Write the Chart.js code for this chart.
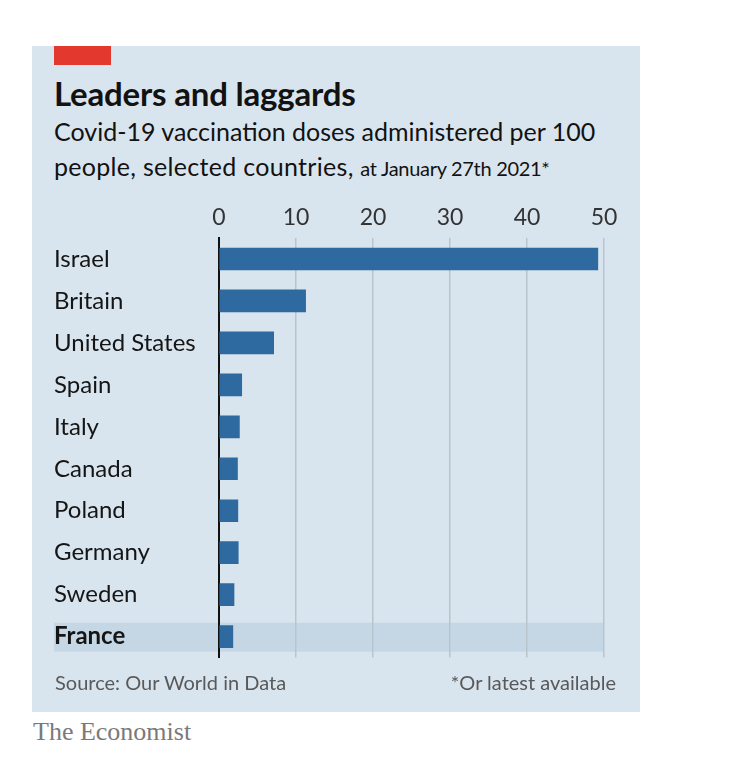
<!DOCTYPE html>
<html>
<head>
<meta charset="utf-8">
<script src="https://cdn.jsdelivr.net/npm/chart.js@4.4.1/dist/chart.umd.min.js"></script>
<style>
  body { margin: 0; background: #fff; font-family: Lato, "Noto Sans", sans-serif; }
  #panel { position: absolute; left: 32px; top: 46px; width: 608px; height: 666px; background: #d9e5ee; }
  #redbar { position: absolute; left: 54px; top: 46px; width: 57px; height: 19px; background: #e3382e; }
  .txt { position: absolute; white-space: nowrap; color: #121212; }
  #title { left: 54px; top: 73px; font-size: 33px; font-weight: 700; letter-spacing: -0.2px; }
  #sub1 { left: 54px; top: 116px; font-size: 25px; }
  #sub2 { left: 54px; top: 151px; font-size: 25px; letter-spacing: 0.3px; }
  #sub2 span { font-size: 20px; letter-spacing: -0.3px; }
  #source { left: 55px; top: 670px; font-size: 20px; color: #595959; }
  #note { right: 125px; top: 670px; font-size: 20px; color: #595959; }
  #brand { left: 33px; top: 717px; font-size: 26px; color: #7a7a7a; font-family: "Liberation Serif", "DejaVu Serif", serif; }
  #wrap { position: absolute; left: 32px; top: 195px; width: 608px; height: 477px; }
</style>
</head>
<body>
<div id="panel"></div>
<div id="redbar"></div>
<div class="txt" id="title">Leaders and laggards</div>
<div class="txt" id="sub1">Covid-19 vaccination doses administered per 100</div>
<div class="txt" id="sub2">people, selected countries, <span>at January 27th 2021*</span></div>
<div id="wrap"><canvas id="chart"></canvas></div>
<div class="txt" id="source">Source: Our World in Data</div>
<div class="txt" id="note">*Or latest available</div>
<div class="txt" id="brand">The Economist</div>
<script>
const countries = ['Israel', 'Britain', 'United States', 'Spain', 'Italy', 'Canada', 'Poland', 'Germany', 'Sweden', 'France'];
const doses = [49.2, 11.25, 7.1, 2.95, 2.65, 2.4, 2.45, 2.5, 1.95, 1.8];
const xTicks = [0, 10, 20, 30, 40, 50];
const highlight = 'France';

const bandPlugin = {
  id: 'band',
  beforeDraw(chart) {
    const { ctx, chartArea, scales } = chart;
    const i = countries.indexOf(highlight);
    const y = scales.y.getPixelForValue(i);
    ctx.save();
    ctx.fillStyle = '#c5d7e4';
    ctx.fillRect(22, y - 14, chartArea.right - 22, 29);
    ctx.restore();
  }
};

new Chart(document.getElementById('chart'), {
  type: 'bar',
  data: {
    labels: countries,
    datasets: [{
      data: doses,
      backgroundColor: '#2e6a9f',
      barThickness: 22,
    }],
  },
  plugins: [bandPlugin],
  options: {
    indexAxis: 'y',
    responsive: true,
    maintainAspectRatio: false,
    animation: false,
    layout: { padding: { left: 22, right: 36, top: 0, bottom: 0 } },
    plugins: { legend: { display: false }, tooltip: { enabled: false } },
    scales: {
      x: {
        position: 'top',
        min: 0,
        max: 50,
        afterBuildTicks: (s) => { s.ticks = xTicks.map((v) => ({ value: v })); },
        afterFit: (s) => { s.height = 43; },
        grid: {
          drawTicks: false,
          color: (c) => (c.tick && c.tick.value === 0 ? 'rgba(0,0,0,0)' : '#b9c5cd'),
          lineWidth: 1.5,
        },
        border: { display: false },
        ticks: { padding: 7, color: '#333', font: { family: 'Lato', size: 23 } },
      },
      y: {
        afterFit: (s) => { s.width = 165; },
        grid: { display: false, drawTicks: false },
        border: { display: true, color: '#111', width: 2 },
        ticks: {
          crossAlign: 'far',
          padding: 0,
          color: '#151515',
          font: (c) => ({ family: 'Lato', size: 24, weight: countries[c.index] === highlight ? 'bold' : 'normal' }),
        },
      },
    },
  },
});
</script>
</body>
</html>
